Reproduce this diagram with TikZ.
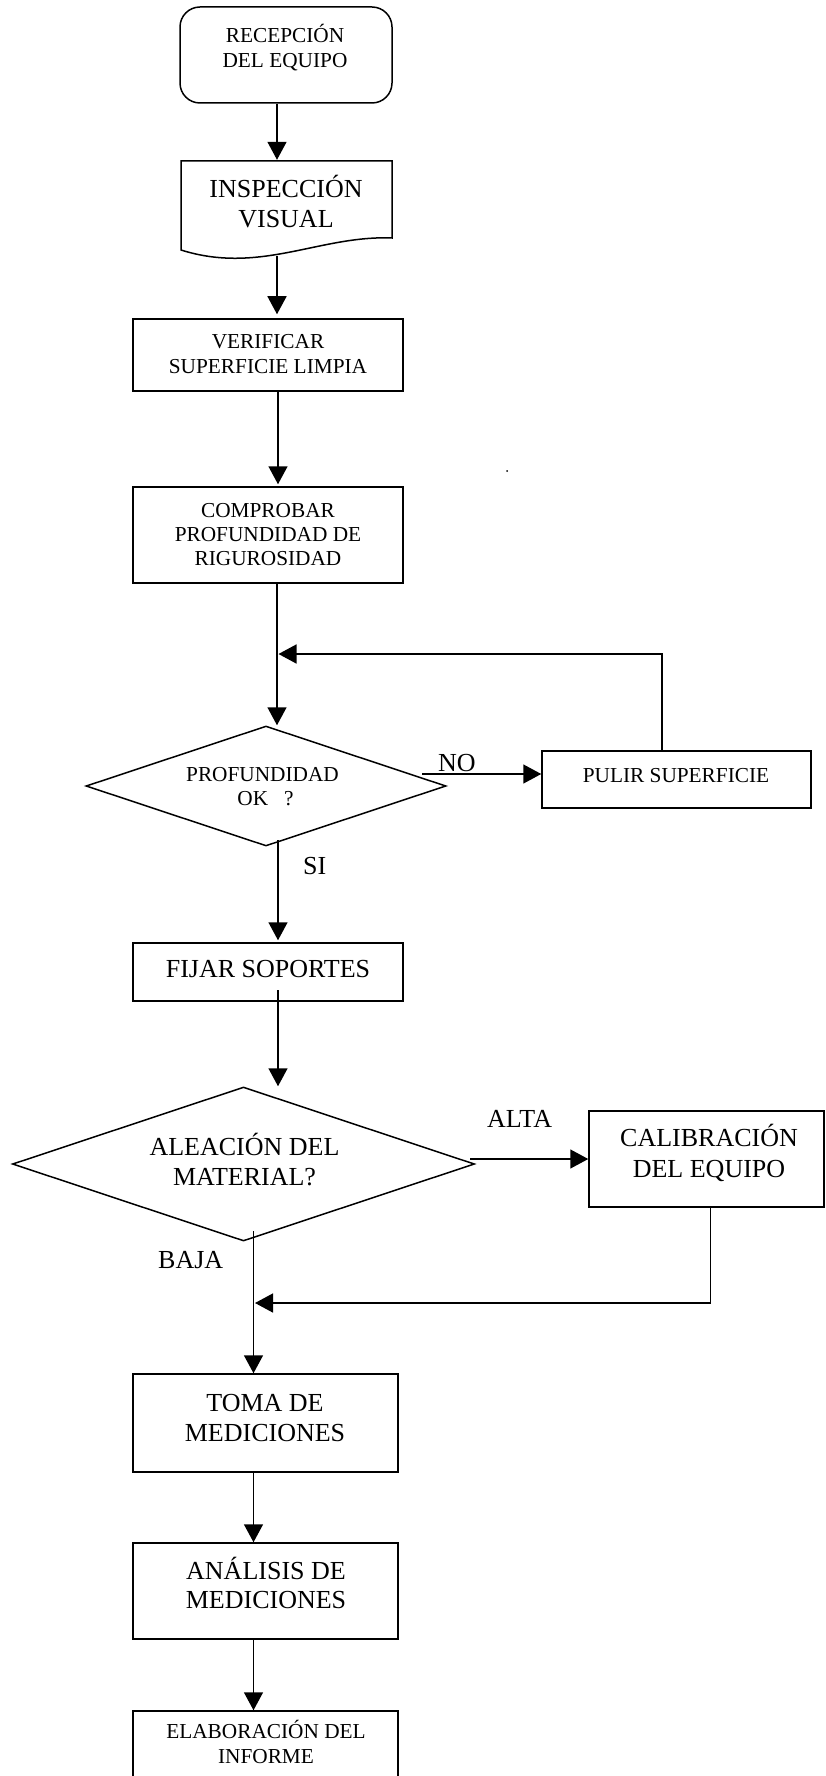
\documentclass[tikz,border=0pt]{standalone}
\usepackage{fontspec}
\setmainfont{Liberation Serif}
\usetikzlibrary{arrows.meta,shapes.geometric}
\newcommand\smalltxt{\fontsize{21.3}{24.5}\selectfont}
\newcommand\bigtxt{\fontsize{26}{30}\selectfont}
\begin{document}
\begin{tikzpicture}[x=1pt,y=-1pt,
  box/.style={draw,rectangle,line width=1.5pt,inner sep=0pt},
  dia/.style={draw,diamond,line width=1.5pt,inner sep=0pt},
  lbl/.style={inner sep=0pt,align=center,anchor=base},
  tag/.style={inner sep=0pt,anchor=base west,font=\bigtxt},
  flow/.style={line width=1.5pt,-{Triangle[length=18pt,width=19pt]}},
  wire/.style={line width=1.5pt}]
\useasboundingbox (0,0) rectangle (825,1776);

% vertical guide positions of the connectors
\coordinate (xa) at (277,0);
\coordinate (xb) at (278,0);
\coordinate (xc) at (253.5,0);
\coordinate (xl) at (662,0);
\coordinate (xm) at (710.5,0);

% shapes
\node[box,rounded corners=20pt,minimum width=212pt,minimum height=96pt] (rec) at (286,55) {};
\draw[wire] (181,250) -- (181,161) -- (392,161) -- (392,238)
  .. controls (320,235) and (260,275) .. (181,250) -- cycle;
\node[inner sep=0pt,minimum width=211pt,minimum height=89pt] (insp) at (286.5,205.5) {};
\coordinate (insp-out) at (277,256);
\node[box,minimum width=270pt,minimum height=72pt] (ver) at (268,355) {};
\node[box,minimum width=270pt,minimum height=96pt] (comp) at (268,535) {};
\node[dia,minimum width=360pt,minimum height=120pt] (prof) at (266,786) {};
\node[box,minimum width=269pt,minimum height=57pt] (pul) at (676.5,779.5) {};
\node[box,minimum width=270pt,minimum height=58pt] (fij) at (268,972) {};
\node[dia,minimum width=462pt,minimum height=154pt] (ale) at (243.5,1164) {};
\node[box,minimum width=235pt,minimum height=96pt] (cal) at (706.5,1159) {};
\node[box,minimum width=265pt,minimum height=98pt] (toma) at (265.5,1423) {};
\node[box,minimum width=265pt,minimum height=96pt] (ana) at (265.5,1591) {};
\node[box,minimum width=265pt,minimum height=89pt] (ela) at (265.5,1755.5) {};

% texts (anchored on the baseline of their last line)
\node[lbl,font=\fontsize{21.3}{25}\selectfont] (rec-t) at (285,68) {RECEPCIÓN\\DEL EQUIPO};
\node[lbl,font=\bigtxt] (insp-t) at (286,228) {INSPECCIÓN\\VISUAL};
\node[lbl,font=\smalltxt] (ver-t) at (268,373) {VERIFICAR\\SUPERFICIE LIMPIA};
\node[lbl,font=\fontsize{21.3}{24}\selectfont] (comp-t) at (268,565) {COMPROBAR\\PROFUNDIDAD DE\\RIGUROSIDAD};
\node[lbl,font=\fontsize{21.3}{24}\selectfont] (prof-t) at (262.5,805) {PROFUNDIDAD\\\hspace*{6pt}OK~~~?};
\node[lbl,font=\smalltxt] (pul-t) at (676,782) {PULIR SUPERFICIE};
\node[lbl,font=\bigtxt] (fij-t) at (268,977) {FIJAR SOPORTES};
\node[lbl,font=\bigtxt] (ale-t) at (244.5,1185) {ALEACIÓN DEL\\MATERIAL?};
\node[lbl,font=\fontsize{26}{31}\selectfont] (cal-t) at (709,1177) {CALIBRACIÓN\\DEL EQUIPO};
\node[lbl,font=\bigtxt] (toma-t) at (265,1441) {TOMA DE\\MEDICIONES};
\node[lbl,font=\fontsize{26}{28.5}\selectfont] (ana-t) at (266,1608) {ANÁLISIS DE\\MEDICIONES};
\node[lbl,font=\fontsize{21.3}{25}\selectfont] (ela-t) at (266,1763) {ELABORACIÓN DEL\\INFORME};

% branch labels
\node[tag] (no) at (438,771) {NO};
\node[tag] (si) at (303,874) {SI};
\node[tag] (alta) at (487,1127) {ALTA};
\node[tag] (baja) at (158,1268) {BAJA};

% connector ends
\coordinate (prof-no) at (422,774);
\coordinate (prof-si) at (278,840);
\coordinate (fij-out) at (278,990);
\coordinate (ale-alta) at (470,1159);
\coordinate (ale-baja) at (253.5,1231);
\coordinate (j1) at (277,654);
\coordinate (j2) at (253.5,1303);

% connectors
\draw[flow,shorten >=1pt] (rec.south -| xa) -- (insp.north -| xa);
\draw[flow,shorten >=4pt] (insp-out) -- (ver.north -| xa);
\draw[flow,shorten >=2pt] (ver.south -| xb) -- (comp.north -| xb);
\draw[flow] (comp.south -| xa) -- (prof.north -| xa);
\draw[flow] (prof-no) -- (pul.west |- prof-no);
\draw[flow,shorten >=1.5pt] (pul.north -| xl) |- (j1);
\draw[flow,shorten >=2pt] (prof-si) -- (fij.north -| xb);
\draw[flow] (fij-out) -- (ale.north -| xb);
\draw[flow] (ale-alta) -- (cal.west |- ale-alta);
\draw[flow] (ale-baja) -- (toma.north -| xc);
\draw[flow,shorten >=1.5pt] (cal.south -| xm) |- (j2);
\draw[flow] (toma.south -| xc) -- (ana.north -| xc);
\draw[flow] (ana.south -| xc) -- (ela.north -| xc);

% small speck
\fill (507,471) circle (1pt);
\end{tikzpicture}
\end{document}
